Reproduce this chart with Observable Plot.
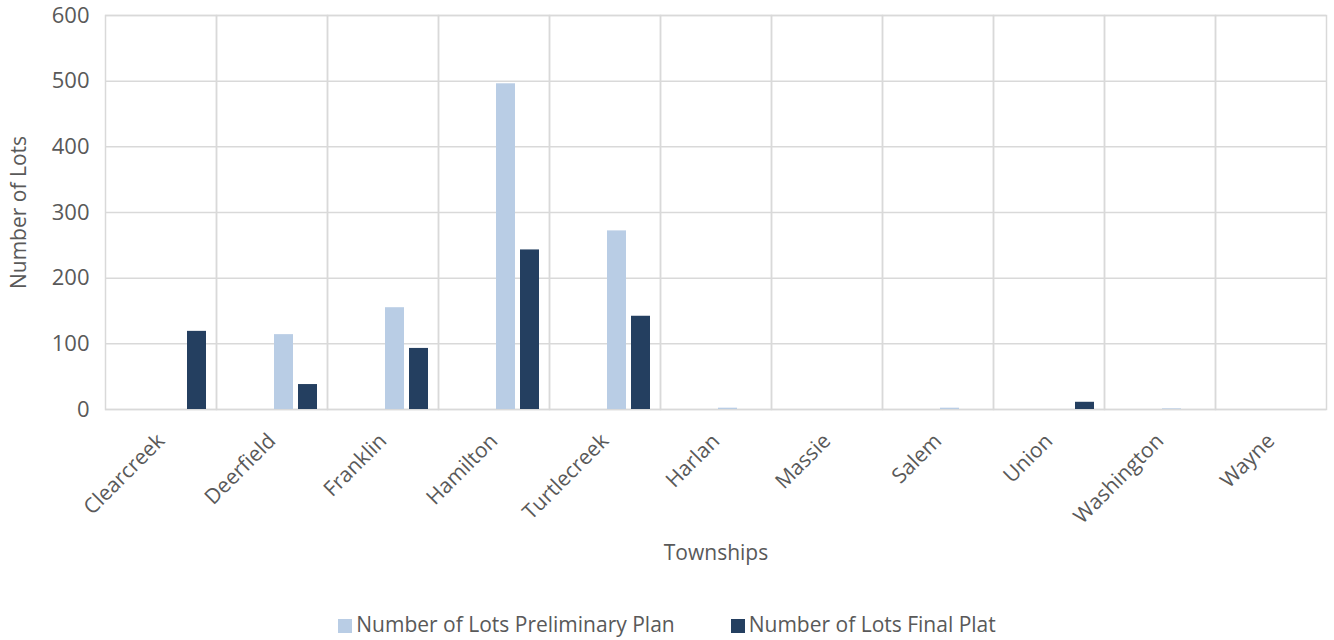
<!DOCTYPE html>
<html>
<head>
<meta charset="utf-8">
<script src="https://cdn.jsdelivr.net/npm/d3@7"></script>
<script src="https://cdn.jsdelivr.net/npm/@observablehq/plot@0.6"></script>
<style>
  body { margin: 0; background: #fff; font-family: "Open Sans", sans-serif; }
  #chart svg { display: block; }
  #chart svg text { font-size: 21px; }
  #chart svg g[aria-label="y-axis tick label"] text { font-size: 22px; }
  .legend { display: flex; justify-content: center; gap: 56px; font-size: 21px; line-height: 26px; color: #595959; margin-top: 31px; }
  .legend span.sw { display: inline-block; width: 14px; height: 14px; margin-right: 4px; vertical-align: -1px; }
</style>
</head>
<body>
<div id="chart"></div>
<div class="legend" id="legend"></div>
<script>
const townships = ["Clearcreek", "Deerfield", "Franklin", "Hamilton", "Turtlecreek", "Harlan", "Massie", "Salem", "Union", "Washington", "Wayne"];
const preliminaryPlan = [0, 114, 155, 496, 272, 2, 0, 2, 0, 1, 0];
const finalPlat = [119, 38, 93, 243, 142, 0, 0, 0, 11, 0, 0];
const seriesNames = ["Number of Lots Preliminary Plan", "Number of Lots Final Plat"];
const yTicks = [0, 100, 200, 300, 400, 500, 600];
const colors = ["#b9cde5", "#243f60"];

const data = [];
townships.forEach((t, i) => {
  data.push({township: t, series: seriesNames[0], value: preliminaryPlan[i]});
  data.push({township: t, series: seriesNames[1], value: finalPlat[i]});
});

const chart = Plot.plot({
  width: 1334,
  height: 580,
  marginLeft: 103,
  marginRight: 6,
  marginTop: 15,
  marginBottom: 171,
  style: {fontFamily: "'Open Sans', sans-serif", fontSize: "21px", color: "#595959", background: "#fff"},
  fx: {domain: townships, padding: 0, label: "Townships", labelAnchor: "center", tickRotate: -45, tickSize: 0, tickPadding: 28, labelOffset: 150},
  x: {domain: ["_a", "_b", ...seriesNames], paddingInner: 0.2, paddingOuter: 0.33, axis: null},
  y: {domain: [0, 600], ticks: yTicks, tickSize: 0, tickPadding: 16, label: "Number of Lots", labelAnchor: "center", labelOffset: 94, labelArrow: "none"},
  color: {domain: seriesNames, range: colors},
  marks: [
    Plot.gridY(yTicks, {stroke: "#d9d9d9", strokeOpacity: 1, strokeWidth: 1.5}),
    Plot.frame({stroke: "#d9d9d9", strokeWidth: 1.5}),
    Plot.barY(data, {fx: "township", x: "series", y: "value", fill: "series"})
  ]
});
document.getElementById("chart").appendChild(chart);

const legend = document.getElementById("legend");
seriesNames.forEach((s, i) => {
  const item = document.createElement("div");
  item.innerHTML = `<span class="sw" style="background:${colors[i]}"></span>${s}`;
  legend.appendChild(item);
});
</script>
</body>
</html>
